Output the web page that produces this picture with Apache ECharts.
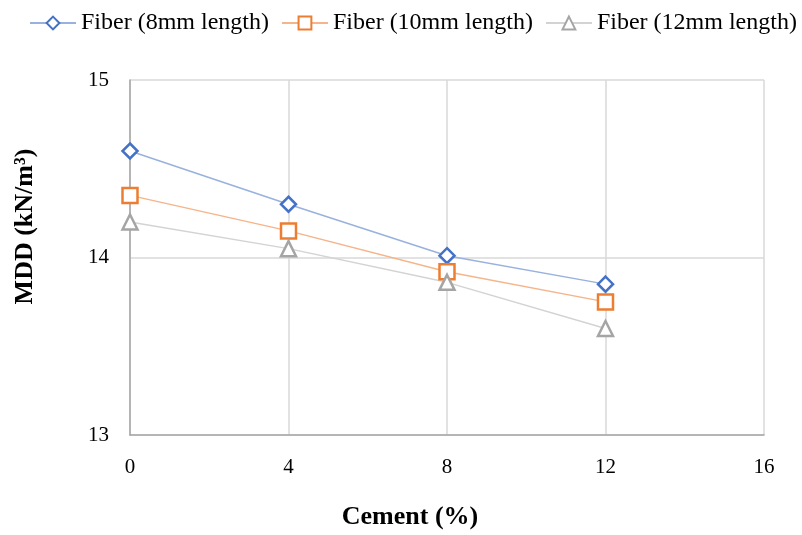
<!DOCTYPE html>
<html>
<head>
<meta charset="utf-8">
<script src="https://cdn.jsdelivr.net/npm/echarts@6/dist/echarts.min.js"></script>
<style>
  html, body { margin: 0; padding: 0; background: #fff; }
  #chart { width: 802px; height: 535px; }
</style>
</head>
<body>
<div id="chart"></div>
<script>
// Cement content (%) on the x axis
const cement = [0, 4, 8, 12];
// Maximum dry density (kN/m³) for each fiber length
const fiber8 = [14.60, 14.30, 14.01, 13.85];
const fiber10 = [14.35, 14.15, 13.92, 13.75];
const fiber12 = [14.20, 14.05, 13.86, 13.60];

const seriesNames = ['Fiber (8mm length)', 'Fiber (10mm length)', 'Fiber (12mm length)'];

const font = '"Liberation Serif", "Times New Roman", serif';

function pairs(xs, ys) {
  return xs.map((x, i) => [x, ys[i]]);
}

function makeSeries(name, values, symbol, size, markerColor, lineColor) {
  return {
    name: name,
    type: 'line',
    data: pairs(cement, values),
    symbol: symbol,
    symbolSize: size,
    showAllSymbol: true,
    lineStyle: { color: lineColor, width: 1.5 },
    itemStyle: { color: '#ffffff', borderColor: markerColor, borderWidth: 2.5 },
    emphasis: { disabled: true },
    z: 3
  };
}

const chart = echarts.init(document.getElementById('chart'), null, { renderer: 'canvas' });

chart.setOption({
  animation: false,
  backgroundColor: '#ffffff',
  textStyle: { fontFamily: font },
  legend: {
    top: 6,
    left: 24,
    width: 775,
    padding: [5, 0, 5, 5],
    itemWidth: 46,
    itemHeight: 16,
    itemGap: 12,
    textStyle: { fontFamily: font, fontSize: 24, color: '#000' },
    data: seriesNames
  },
  grid: { left: 130, right: 38, top: 80, bottom: 97 },
  xAxis: {
    type: 'value',
    min: 0,
    max: 16,
    interval: 4,
    name: 'Cement (%)',
    nameLocation: 'middle',
    nameGap: 69,
    nameTextStyle: {
      fontFamily: font, fontSize: 26, fontWeight: 'bold', color: '#000',
      padding: [0, 74, 0, 0]
    },
    axisLine: { show: true, lineStyle: { color: '#a6a6a6', width: 1.5 } },
    axisTick: { show: false },
    axisLabel: { fontFamily: font, fontSize: 21, color: '#000', margin: 22 },
    splitLine: { show: true, lineStyle: { color: '#d9d9d9', width: 1.5 } }
  },
  yAxis: {
    type: 'value',
    min: 13,
    max: 15,
    interval: 1,
    name: 'MDD (kN/m³)',
    nameLocation: 'middle',
    nameGap: 92,
    nameTextStyle: {
      fontFamily: font, fontSize: 26, fontWeight: 'bold', color: '#000',
      padding: [0, 0, 0, 62]
    },
    axisLine: { show: true, lineStyle: { color: '#a6a6a6', width: 1.5 } },
    axisTick: { show: false },
    axisLabel: { fontFamily: font, fontSize: 21, color: '#000', margin: 21 },
    splitLine: { show: true, lineStyle: { color: '#d9d9d9', width: 1.5 } }
  },
  series: [
    makeSeries(seriesNames[0], fiber8, 'diamond', 15, '#4472c4', '#98b1de'),
    makeSeries(seriesNames[1], fiber10, 'rect', 15, '#ed7d31', '#f5b48a'),
    makeSeries(seriesNames[2], fiber12, 'triangle', 15, '#a5a5a5', '#d3d3d3')
  ]
});
</script>
</body>
</html>
